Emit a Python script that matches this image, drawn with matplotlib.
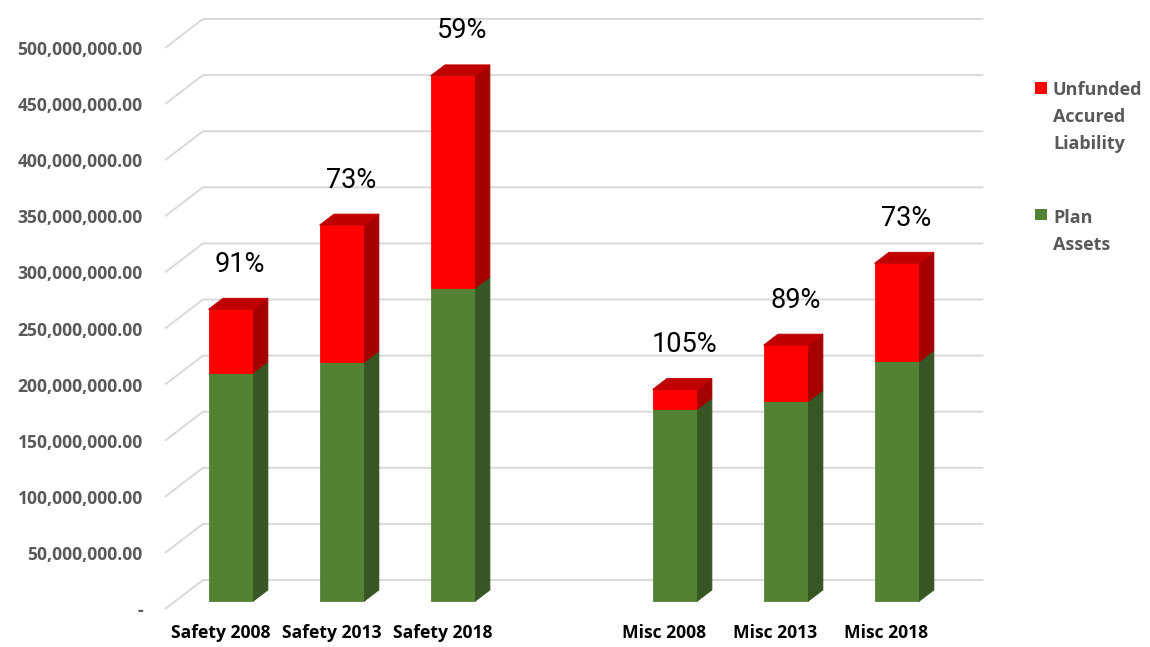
import numpy as np
import matplotlib
matplotlib.use("Agg")
import matplotlib.pyplot as plt
from matplotlib.patches import Polygon, Rectangle

# ---- data -------------------------------------------------------------
categories = ["Safety 2008", "Safety 2013", "Safety 2018", "",
              "Misc 2008", "Misc 2013", "Misc 2018"]
plan_assets = [203.5e6, 213.0e6, 279.0e6, 0.0, 171.0e6, 178.0e6, 213.5e6]
unfunded = [56.5e6, 122.0e6, 189.0e6, 0.0, 17.5e6, 50.0e6, 87.5e6]
funded_labels = ["91%", "73%", "59%", "", "105%", "89%", "73%"]
y_ticks = np.arange(0, 500e6 + 1, 50e6)
series_names = ["Unfunded\nAccured\nLiability", "Plan\nAssets"]

# ---- colours ----------------------------------------------------------
RED = {"front": "#FF0000", "side": "#A50000", "top": "#C00000"}
GREEN = {"front": "#548235", "side": "#375623", "top": "#44702A"}
GRID = "#D9D9D9"
LABEL_GREY = "#595959"
FONT = "Open Sans"

W, H = 1150, 647
fig = plt.figure(figsize=(W / 100, H / 100), dpi=100)
fig.patch.set_facecolor("white")

# axes = front plane of the 3-D box (pixel extents)
x0, x1 = 165, 942
y_bot, y_top = 609, 48
ax = fig.add_axes([x0 / W, 1 - y_bot / H, (x1 - x0) / W, (y_bot - y_top) / H])
n = len(categories)
ax.set_xlim(-0.5, n - 0.5)
ax.set_ylim(0, y_ticks[-1])
for s in ax.spines.values():
    s.set_visible(False)
ax.set_facecolor("none")

# depth vector of the box, pixels -> data units
origin = ax.transData.transform((0, 0))
DX, DY = ax.transData.inverted().transform(origin + np.array([38, 29])) - \
    ax.transData.inverted().transform(origin)

# ---- back wall gridlines with floor diagonals --------------------------
x_back_end = n - 0.5 + DX + 0.03
for v in y_ticks:
    ax.plot([-0.5, -0.5 + DX, x_back_end], [v, v + DY, v + DY],
            color=GRID, lw=1.4, clip_on=False, zorder=1,
            solid_capstyle="butt")

# ---- 3-D stacked bars ---------------------------------------------------
f0, f1 = 0.276, 0.656     # depth fraction of bar front / back
hw = 0.2025                # half width of the bar front face
ddx, ddy = (f1 - f0) * DX, (f1 - f0) * DY


def draw_block(i, bottom, top, col, with_top):
    xf = i + f0 * DX
    xl, xr = xf - hw, xf + hw
    b, t = bottom + f0 * DY, top + f0 * DY
    kw = dict(clip_on=False, zorder=3, lw=0.6, joinstyle="miter")
    ax.add_patch(Polygon([(xl, b), (xr, b), (xr, t), (xl, t)],
                         facecolor=col["front"], edgecolor=col["front"], **kw))
    ax.add_patch(Polygon([(xr, b), (xr + ddx, b + ddy), (xr + ddx, t + ddy), (xr, t)],
                         facecolor=col["side"], edgecolor=col["side"], **kw))
    if with_top:
        ax.add_patch(Polygon([(xl, t), (xl + ddx, t + ddy), (xr + ddx, t + ddy), (xr, t)],
                             facecolor=col["top"], edgecolor=col["top"], **kw))


for i in range(n):
    pa, uf = plan_assets[i], unfunded[i]
    if pa + uf <= 0:
        continue
    draw_block(i, 0, pa, GREEN, uf <= 0)
    if uf > 0:
        draw_block(i, pa, pa + uf, RED, True)
    total = pa + uf
    ax.annotate(funded_labels[i],
                xy=(i + f0 * DX + ddx / 2, total + f1 * DY),
                xytext=(1.5, 19), textcoords="offset points",
                ha="center", va="baseline", fontsize=19.5,
                family="Roboto", color="black", annotation_clip=False,
                zorder=5)

# ---- axis labels --------------------------------------------------------
ax.set_yticks(y_ticks, labels=["-" if v == 0 else f"{v:,.2f}" for v in y_ticks])
ax.tick_params(axis="y", length=0, pad=16, labelsize=12.6, labelcolor=LABEL_GREY)
ax.set_xticks(range(n), labels=categories)
ax.tick_params(axis="x", length=0, pad=11, labelsize=12.6, labelcolor="black")
for lab in ax.get_yticklabels() + ax.get_xticklabels():
    lab.set_fontweight("bold")
    lab.set_family(FONT)

# ---- legend -------------------------------------------------------------
legend_rows = [(series_names[0], RED["front"], 82, 95),
               (series_names[1], GREEN["front"], 209, 223)]
for name, col, sq_top, baseline in legend_rows:
    fig.patches.append(Rectangle((1035 / W, 1 - (sq_top + 11.5) / H), 11.5 / W, 11.5 / H,
                                 transform=fig.transFigure, facecolor=col,
                                 edgecolor="none"))
    for k, line in enumerate(name.split("\n")):
        fig.text(1053 / W, 1 - (baseline + 27 * k) / H, line, ha="left",
                 va="baseline", fontsize=13, fontweight="bold",
                 family=FONT, color=LABEL_GREY)

fig.savefig("out.png", dpi=100, facecolor="white")
